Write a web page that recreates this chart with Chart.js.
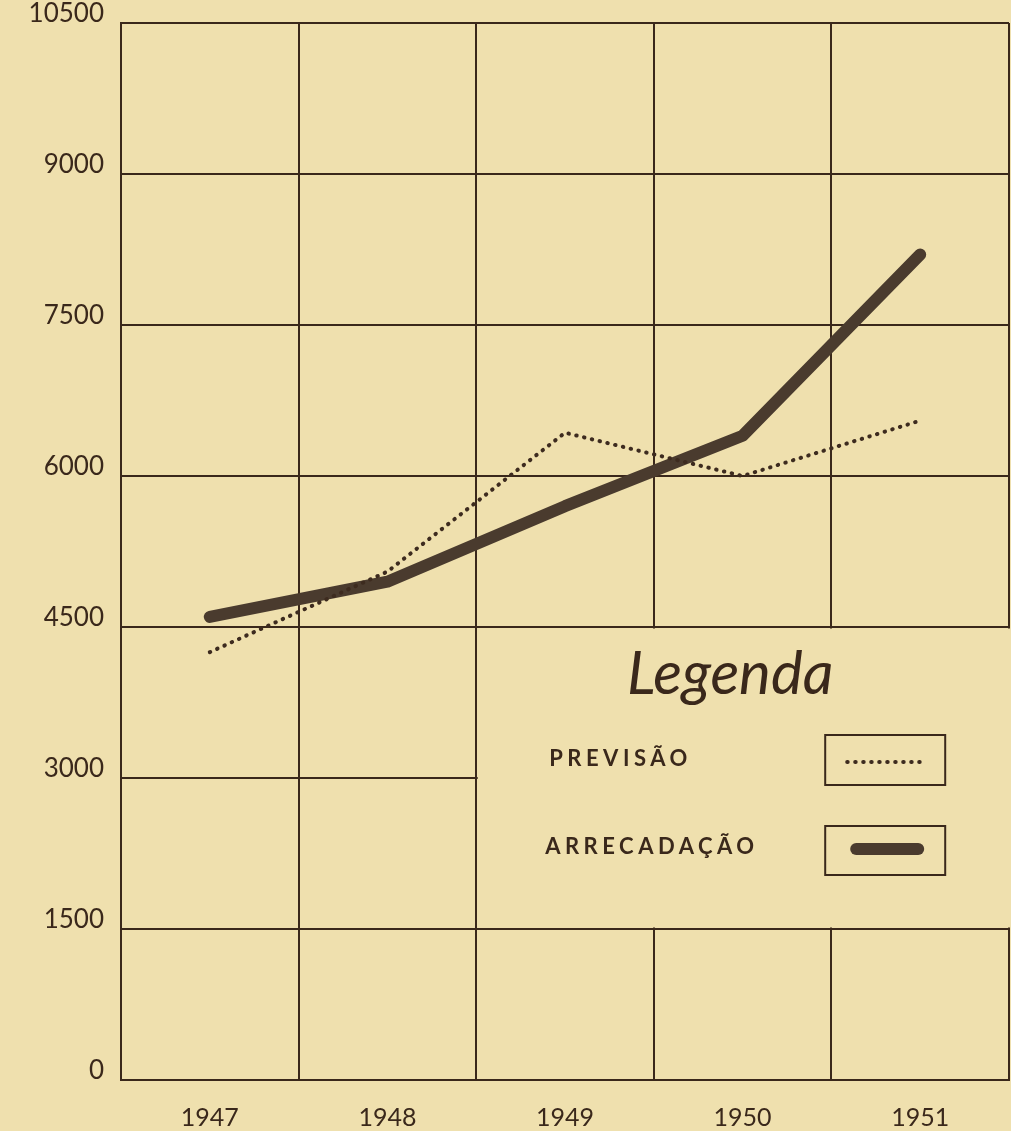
<!DOCTYPE html>
<html>
<head>
<meta charset="utf-8">
<script src="https://cdn.jsdelivr.net/npm/chart.js@4"></script>
<style>
  html, body { margin: 0; padding: 0; background: #efe0ae; overflow: hidden; }
  canvas { display: block; }
</style>
</head>
<body>
<canvas id="grafico" width="1011" height="1131"></canvas>
<script>
// valores (milhoes)
const anos = ['1947', '1948', '1949', '1950', '1951'];
const previsao = [4250, 5050, 6430, 6000, 6550];
const arrecadacao = [4600, 4950, 5700, 6400, 8200];
const yTicks = [0, 1500, 3000, 4500, 6000, 7500, 9000, 10500];
const legendaTitulo = 'Legenda';
const legendaNomes = ['PREVISÃO', 'ARRECADAÇÃO'];

const FUNDO = '#efe0ae';
const TINTA = '#3a281b';

// apaga a grade na area da legenda e desenha a legenda
const legendaPlugin = {
  id: 'legendaQuadro',
  beforeDatasetsDraw(chart) {
    const ctx = chart.ctx;
    const xs = chart.scales.x, ys = chart.scales.y;
    const L = (xs.getPixelForValue(1) + xs.getPixelForValue(2)) / 2;
    const R = chart.chartArea.right;
    const T = ys.getPixelForValue(4500);
    const B = ys.getPixelForValue(1500);
    ctx.save();
    ctx.fillStyle = FUNDO;
    ctx.fillRect(L + 1.5, T + 1.5, R - L + 2, B - T - 3);

    // titulo
    ctx.fillStyle = TINTA;
    ctx.font = 'italic 60px Lato';
    ctx.textAlign = 'center';
    ctx.textBaseline = 'alphabetic';
    ctx.fillText(legendaTitulo, L + 254, T + 67);

    // nomes
    ctx.font = 'bold 22px Lato';
    ctx.textAlign = 'left';
    ctx.textBaseline = 'middle';
    ctx.letterSpacing = '4.5px';
    ctx.fillText(legendaNomes[0], L + 73, T + 132);
    ctx.fillText(legendaNomes[1], L + 69, T + 220);
    ctx.letterSpacing = '0px';

    // caixas
    ctx.strokeStyle = TINTA;
    ctx.lineWidth = 2;
    ctx.strokeRect(L + 349, T + 108, 120, 50);
    ctx.strokeRect(L + 349, T + 199, 120, 49);

    const dsP = chart.data.datasets[0], dsA = chart.data.datasets[1];
    ctx.beginPath();
    ctx.strokeStyle = dsP.borderColor;
    ctx.lineWidth = dsP.borderWidth;
    ctx.lineCap = 'round';
    ctx.setLineDash(dsP.borderDash);
    ctx.moveTo(L + 371, T + 135);
    ctx.lineTo(L + 449, T + 135);
    ctx.stroke();

    ctx.beginPath();
    ctx.setLineDash([]);
    ctx.strokeStyle = dsA.borderColor;
    ctx.lineWidth = dsA.borderWidth;
    ctx.moveTo(L + 380, T + 222);
    ctx.lineTo(L + 442, T + 222);
    ctx.stroke();
    ctx.restore();
  }
};

new Chart(document.getElementById('grafico'), {
  type: 'line',
  data: {
    labels: anos,
    datasets: [
      {
        label: legendaNomes[0],
        data: previsao,
        borderColor: '#3d2b1f',
        borderWidth: 4,
        borderDash: [0.5, 7.5],
        borderCapStyle: 'round',
        pointRadius: 0,
        tension: 0,
        fill: false
      },
      {
        label: legendaNomes[1],
        data: arrecadacao,
        borderColor: '#4a3b2e',
        borderWidth: 12,
        borderCapStyle: 'round',
        borderJoinStyle: 'round',
        pointRadius: 0,
        tension: 0,
        fill: false
      }
    ]
  },
  options: {
    responsive: false,
    animation: false,
    devicePixelRatio: 1,
    layout: { padding: { top: 23, right: 2, left: 0, bottom: 0 } },
    plugins: { legend: { display: false }, tooltip: { enabled: false } },
    scales: {
      x: {
        type: 'category',
        offset: true,
        grid: { offset: true, color: TINTA, lineWidth: 2, drawTicks: false },
        border: { color: TINTA, width: 2 },
        ticks: { color: TINTA, font: { family: 'Lato', size: 25 }, padding: 23, maxRotation: 0 },
        afterFit(scale) { scale.height = 51; }
      },
      y: {
        min: 0,
        max: 10500,
        afterBuildTicks(scale) { scale.ticks = yTicks.map(v => ({ value: v })); },
        grid: { color: TINTA, lineWidth: 2, drawTicks: false },
        border: { color: TINTA, width: 2 },
        ticks: {
          color: TINTA,
          font: { family: 'Lato', size: 26, lineHeight: 0.4 },
          padding: 17,
          labelOffset: -9,
          callback: v => String(v)
        },
        afterFit(scale) { scale.width = 121; }
      }
    }
  },
  plugins: [legendaPlugin]
});
</script>
</body>
</html>
